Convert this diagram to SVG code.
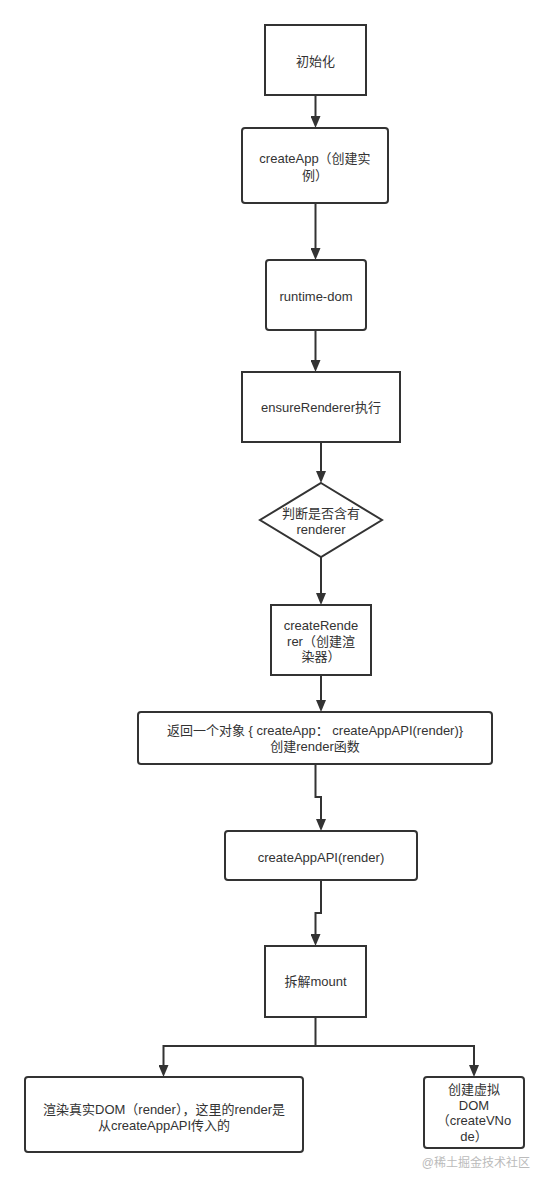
<svg xmlns="http://www.w3.org/2000/svg" width="549" height="1187" viewBox="0 0 549 1187">
<style>
.box{fill:#ffffff;stroke:#333333;stroke-width:2}
.t{font-family:"Liberation Sans","Noto Sans CJK SC",sans-serif;font-size:13px;fill:#333333;text-anchor:middle}
.c{fill:none;stroke:#333333;stroke-width:2}
.wm{font-family:"Liberation Sans","Noto Sans CJK SC",sans-serif;font-size:12px;fill:#bbbbbb;text-anchor:end}
</style>
<defs>
<marker id="arr" viewBox="0 0 12 10" refX="6" refY="5" markerWidth="12" markerHeight="10" markerUnits="userSpaceOnUse" orient="auto">
<path d="M0,0 L12,5 L0,10 Z" fill="#333333"/>
</marker>
</defs>
<rect width="549" height="1187" fill="#ffffff"/>
<g id="connectors">
<path class="c" d="M315.5 95 V122" marker-end="url(#arr)"/>
<path class="c" d="M315.5 203 V254" marker-end="url(#arr)"/>
<path class="c" d="M315.5 330 V366" marker-end="url(#arr)"/>
<path class="c" d="M321 442 V477" marker-end="url(#arr)"/>
<path class="c" d="M321 557 V599" marker-end="url(#arr)"/>
<path class="c" d="M321 675 V706" marker-end="url(#arr)"/>
<path class="c" d="M315.5 764 V797 H321 V825" marker-end="url(#arr)"/>
<path class="c" d="M321 880 V913 H315.5 V940" marker-end="url(#arr)"/>
<path class="c" d="M315.5 1017 V1046 H163.5 V1071" marker-end="url(#arr)"/>
<path class="c" d="M315.5 1046 H474 V1071" marker-end="url(#arr)"/>
</g>
<g id="n1">
<rect class="box" x="265" y="25" width="101" height="70"/>
<text class="t" x="315.5" y="66">初始化</text>
</g>
<g id="n2">
<rect class="box" x="242" y="128" width="146" height="75" rx="3"/>
<text class="t" x="315" y="162.5">createApp（创建实</text>
<text class="t" x="315" y="179.5">例）</text>
</g>
<g id="n3">
<rect class="box" x="266" y="260" width="100" height="70" rx="3"/>
<text class="t" x="316" y="300.5">runtime-dom</text>
</g>
<g id="n4">
<rect class="box" x="242" y="372" width="158" height="70"/>
<text class="t" x="321" y="411.5">ensureRenderer执行</text>
</g>
<g id="n5">
<polygon class="box" points="321,483 382,520 321,557 260,520"/>
<text class="t" x="321" y="517.5">判断是否含有</text>
<text class="t" x="321" y="534">renderer</text>
</g>
<g id="n6">
<rect class="box" x="271" y="605" width="100" height="70"/>
<text class="t" x="321" y="629.5">createRende</text>
<text class="t" x="321" y="646">rer（创建渲</text>
<text class="t" x="321" y="661">染器）</text>
</g>
<g id="n7">
<rect class="box" x="138" y="712" width="354" height="52" rx="3"/>
<text class="t" x="315" y="735">返回一个对象 { createApp： createAppAPI(render)}</text>
<text class="t" x="315" y="750.5">创建render函数</text>
</g>
<g id="n8">
<rect class="box" x="225" y="831" width="192" height="49" rx="3"/>
<text class="t" x="321" y="861.5">createAppAPI(render)</text>
</g>
<g id="n9">
<rect class="box" x="265" y="946" width="101" height="71"/>
<text class="t" x="315.5" y="986">拆解mount</text>
</g>
<g id="n10">
<rect class="box" x="25" y="1077" width="278" height="75" rx="3"/>
<text class="t" x="164" y="1113.5">渲染真实DOM（render），这里的render是</text>
<text class="t" x="164" y="1129.5">从createAppAPI传入的</text>
</g>
<g id="n11">
<rect class="box" x="424" y="1077" width="100" height="71" rx="3"/>
<text class="t" x="474" y="1093.5">创建虚拟</text>
<text class="t" x="474" y="1109.5">DOM</text>
<text class="t" x="474" y="1125">（createVNo</text>
<text class="t" x="474" y="1141">de）</text>
</g>
<text class="wm" x="530" y="1167">@稀土掘金技术社区</text>
</svg>
